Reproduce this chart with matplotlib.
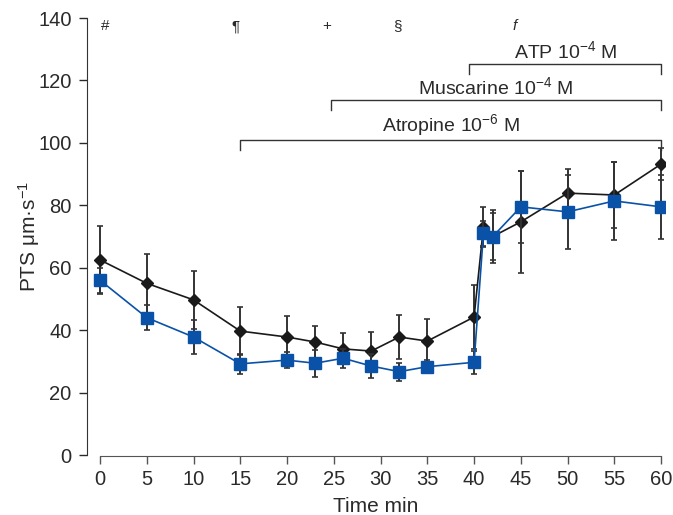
import numpy as np
import matplotlib as mpl
mpl.use('Agg')
import matplotlib.pyplot as plt

plt.rcParams['font.family'] = ['Liberation Sans', 'DejaVu Sans']
plt.rcParams['mathtext.fontset'] = 'custom'
plt.rcParams['mathtext.rm'] = 'Liberation Sans'
plt.rcParams['mathtext.default'] = 'regular'

# time points (min)
t = [0, 5, 10, 15, 20, 23, 26, 29, 32, 35, 40, 41, 42, 45, 50, 55, 60]

# black diamonds
black = [62.5, 55.0, 49.7, 39.7, 37.8, 36.2, 34.0, 33.3, 37.8, 36.5, 44.2, 73.0, 70.0, 74.7, 83.9, 83.3, 93.2]
black_err = [11.0, 9.5, 9.3, 7.7, 6.6, 5.2, 5.0, 6.2, 7.0, 7.1, 10.3, 6.5, 8.5, 16.3, 7.7, 10.7, 5.0]

# blue squares
blue = [56.0, 44.0, 37.8, 29.2, 30.4, 29.4, 31.0, 28.5, 26.7, 28.3, 29.7, 71.0, 70.0, 79.5, 77.9, 81.4, 79.5]
blue_err = [4.0, 4.0, 5.4, 3.2, 2.6, 4.4, 3.0, 3.7, 2.9, 2.0, 3.7, 4.0, 7.5, 11.5, 11.9, 12.4, 10.3]

# treatment brackets: (label, start, end, level)
brackets = [('ATP 10$^{-4}$ M', 39.5, 60, 125.3),
            ('Muscarine 10$^{-4}$ M', 24.7, 60, 113.8),
            ('Atropine 10$^{-6}$ M', 15.0, 60, 101.0)]

# significance marks along the top
marks = ['#', '¶', '+', '§', 'f']
mark_x = [0.5, 14.5, 24.2, 31.8, 44.3]

blue_c = '#0a52a8'
txt_c = '#2a2a2a'

fig = plt.figure(figsize=(6.73, 5.15), dpi=100)
ax = fig.add_axes([0.1293, 0.1165, 0.859, 0.8485])

ax.errorbar(t, black, yerr=black_err, color='#1a1a1a', ecolor='#333333', lw=1.2,
            elinewidth=1.4, capsize=2.5, capthick=1.2, marker='D', ms=6, zorder=3)
ax.errorbar(t, blue, yerr=blue_err, color=blue_c, ecolor='#333333', lw=1.2,
            elinewidth=1.4, capsize=2.5, capthick=1.2, marker='s', ms=8,
            mfc=blue_c, mec=blue_c, zorder=4)

for lab, x0, x1, lev in brackets:
    ax.plot([x0, x0, x1, x1], [lev - 3.2, lev, lev, lev - 3.2], color='#333333', lw=1.0)
    ax.text((x0 + x1) / 2, lev + 0.6, lab, ha='center', va='bottom',
            fontsize=14, color=txt_c)

for m, mx in zip(marks, mark_x):
    ax.text(mx, 137.3, m, ha='center', va='center', fontsize=11, color=txt_c,
            style='italic' if m == 'f' else 'normal')

ax.set_xlim(-1.39, 60.43)
ax.set_ylim(0, 140)
ax.set_xticks(np.arange(0, 61, 5))
ax.set_yticks(np.arange(0, 141, 20))
ax.spines['top'].set_visible(False)
ax.spines['right'].set_visible(False)
ax.spines['bottom'].set_bounds(0, 60)
ax.spines['bottom'].set_position(('outward', 1))
ax.spines['bottom'].set_color('#555555')
ax.spines['left'].set_color('#333333')
ax.tick_params(direction='out', length=6, width=1, labelsize=14.5, colors=txt_c)
ax.tick_params(axis='x', pad=3.5, color='#555555')
ax.tick_params(axis='y', pad=5)
ax.set_xlabel('Time min', fontsize=15, color=txt_c, labelpad=6)
ax.set_ylabel('PTS μm·s$^{-1}$', fontsize=15, color=txt_c, labelpad=-3)

plt.savefig('out.png', dpi=100)
plt.close('all')
